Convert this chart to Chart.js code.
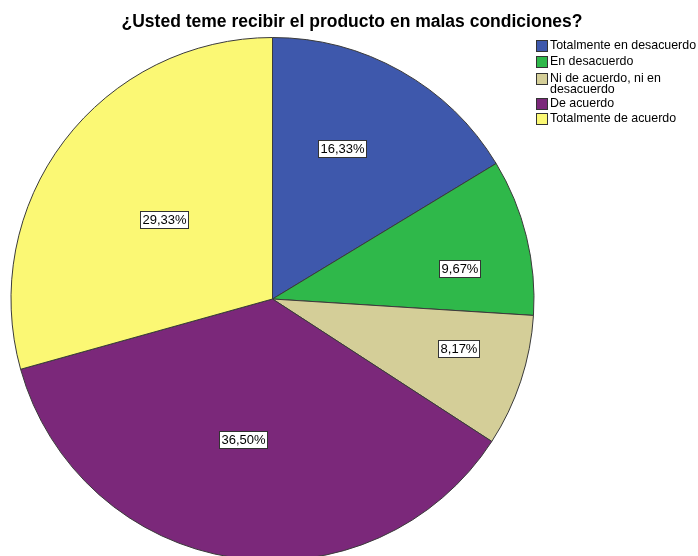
<!DOCTYPE html>
<html><head><meta charset="utf-8">
<script src="https://cdn.jsdelivr.net/npm/chart.js@4"></script>
<style>
html,body{margin:0;padding:0;overflow:hidden;background:#fff;width:698px;height:556px;}
#wrap{position:absolute;left:0;top:0;width:698px;height:580px;}
</style></head><body>
<div id="wrap"><canvas id="c" width="698" height="580"></canvas></div>
<script>
const titleText = "¿Usted teme recibir el producto en malas condiciones?";
const categories = ["Totalmente en desacuerdo","En desacuerdo","Ni de acuerdo, ni en desacuerdo","De acuerdo","Totalmente de acuerdo"];
const legendLines = [["Totalmente en desacuerdo"],["En desacuerdo"],["Ni de acuerdo, ni en","desacuerdo"],["De acuerdo"],["Totalmente de acuerdo"]];
const values = [16.33, 9.67, 8.17, 36.50, 29.33];
const valueLabels = ["16,33%","9,67%","8,17%","36,50%","29,33%"];
const colors = ["#3E58AC","#2FB84A","#D4CE98","#7B287A","#FBF874"];

// label placement style: fraction of radius and angle tweak (degrees)
const labelRadiusFrac = [0.635,0.725,0.735,0.55,0.515];
const labelAngleTweak = [-4.6,4.6,-3.3,3,-1.0];

const overlay = {
  id:'overlay',
  afterDraw(chart){
    const ctx = chart.ctx;
    ctx.save();
    // title
    ctx.fillStyle = '#000';
    ctx.font = 'bold 17.5px "Liberation Sans", Arial, sans-serif';
    ctx.textAlign = 'center'; ctx.textBaseline = 'middle';
    ctx.fillText(titleText, 352, 22);
    // legend
    ctx.font = '12.4px "Liberation Sans", Arial, sans-serif';
    ctx.textAlign = 'left';
    const rowY = [46, 62, 79, 104, 119];
    legendLines.forEach((lines,i)=>{
      const y = rowY[i];
      ctx.fillStyle = colors[i];
      ctx.fillRect(536.5, y-5.5, 11, 11);
      ctx.strokeStyle = '#333'; ctx.lineWidth = 1;
      ctx.strokeRect(536.5, y-5.5, 11, 11);
      ctx.fillStyle = '#000';
      lines.forEach((t,j)=>ctx.fillText(t, 550, y + j*11));
    });
    // value labels
    const meta = chart.getDatasetMeta(0);
    ctx.font = '13px "Liberation Sans", Arial, sans-serif';
    ctx.textAlign = 'center'; ctx.textBaseline = 'middle';
    meta.data.forEach((arc,i)=>{
      const p = arc.getProps(['x','y','startAngle','endAngle','outerRadius'], true);
      const mid = (p.startAngle + p.endAngle)/2 + labelAngleTweak[i]*Math.PI/180;
      const r = p.outerRadius * labelRadiusFrac[i];
      const x = p.x + Math.cos(mid)*r, y = p.y + Math.sin(mid)*r;
      const w = Math.round(ctx.measureText(valueLabels[i]).width + 4), h = 17;
      const bx = Math.round(x - w/2)+0.5, by = Math.round(y - h/2)+0.5;
      ctx.fillStyle = '#fff'; ctx.fillRect(bx,by,w,h);
      ctx.strokeStyle = '#333'; ctx.lineWidth = 1; ctx.strokeRect(bx,by,w,h);
      ctx.fillStyle = '#000';
      ctx.fillText(valueLabels[i], bx + w/2, by + h/2 + 0.5);
    });
    ctx.restore();
  }
};

new Chart(document.getElementById('c'), {
  type:'pie',
  data:{ labels: categories, datasets:[{ data: values, backgroundColor: colors, borderColor:'#3a3a3a', borderWidth:1 }]},
  options:{
    responsive:false, animation:false,
    layout:{ padding:{ left:10, right:163, top:37, bottom:19 } },
    plugins:{ legend:{display:false}, tooltip:{enabled:false}, title:{display:false} }
  },
  plugins:[overlay]
});
</script></body></html>
